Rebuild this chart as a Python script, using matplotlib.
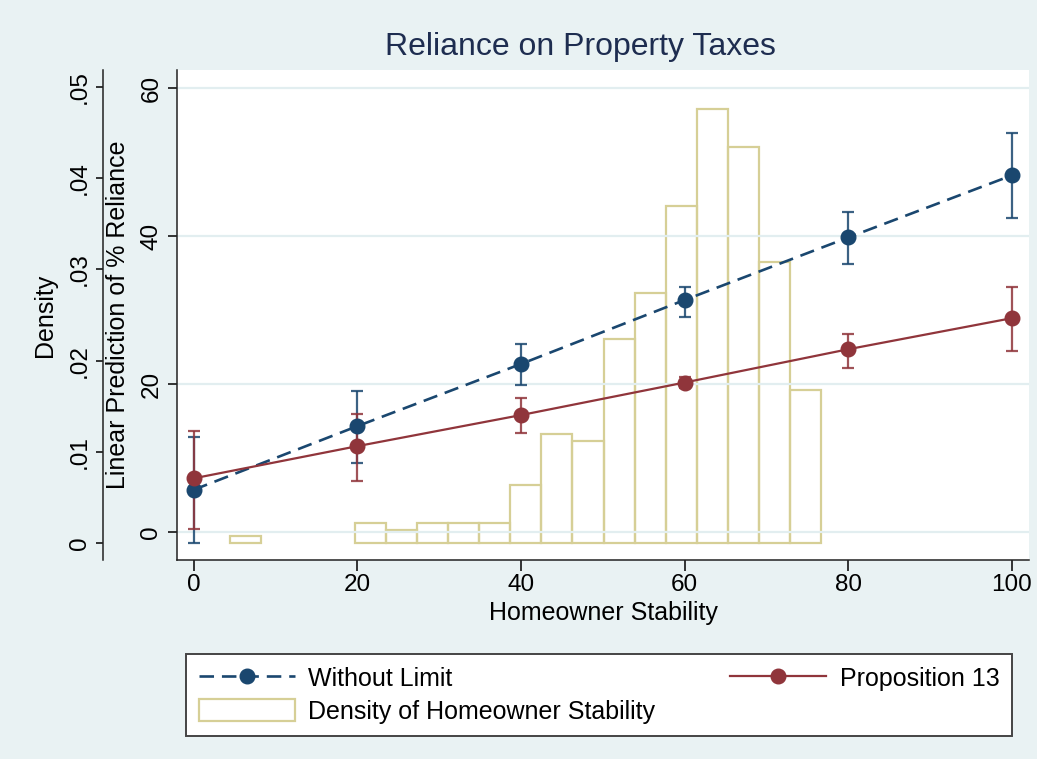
import numpy as np
import matplotlib
matplotlib.use('Agg')
import matplotlib.pyplot as plt
from matplotlib.ticker import FuncFormatter

plt.rcParams['font.family'] = ['Liberation Sans', 'DejaVu Sans']

# Data
stability = [0, 20, 40, 60, 80, 100]

no_limit = [5.7, 14.3, 22.7, 31.35, 39.8, 48.2]
no_limit_lo = [-1.5, 9.3, 19.9, 29.1, 36.2, 42.4]
no_limit_hi = [12.8, 19.0, 25.4, 33.15, 43.2, 53.9]

prop13 = [7.25, 11.6, 15.8, 20.2, 24.7, 28.9]
prop13_lo = [0.4, 6.9, 13.4, 19.4, 22.2, 24.4]
prop13_hi = [13.7, 15.9, 18.1, 20.9, 26.7, 33.15]

# histogram of homeowner stability (non-empty bins only)
bin_left = [4.5, 19.7, 23.5, 27.3, 31.1, 34.9, 38.7, 42.5, 46.3, 50.1,
            53.9, 57.7, 61.5, 65.3, 69.1, 72.9]
bin_width = 3.8
density = [0.0008, 0.0022, 0.0014, 0.0022, 0.0022, 0.0022, 0.0064, 0.0120,
           0.0112, 0.0224, 0.0274, 0.0370, 0.0476, 0.0434, 0.0308, 0.0168]

bg = '#e9f2f3'
navy = '#1a476f'
maroon = '#90353b'
khaki = '#d6cf96'

fig = plt.figure(figsize=(10.37, 7.59), dpi=100, facecolor=bg)
ax = fig.add_axes([177 / 1037, 199 / 759, 852 / 1037, 490 / 759])
ax2 = ax.twinx()

# histogram on density axis (behind)
ax2.set_zorder(1)
ax.set_zorder(2)
ax.patch.set_visible(False)
ax2.patch.set_visible(True)
ax2.patch.set_facecolor('white')

hist = ax2.bar(bin_left, density, width=bin_width, align='edge',
               facecolor='none', edgecolor=khaki, linewidth=1.6,
               label='Density of Homeowner Stability')

# predictions with CIs
x = np.array(stability)
nl = np.array(no_limit)
p13 = np.array(prop13)
ax.errorbar(x, nl, yerr=[nl - np.array(no_limit_lo), np.array(no_limit_hi) - nl],
            fmt='none', ecolor=navy, elinewidth=1.6, capsize=4.5, capthick=1.6,
            alpha=0.85)
ax.errorbar(x, p13, yerr=[p13 - np.array(prop13_lo), np.array(prop13_hi) - p13],
            fmt='none', ecolor=maroon, elinewidth=1.6, capsize=4.5, capthick=1.6,
            alpha=0.85)
l1, = ax.plot(x, nl, color=navy, lw=1.9, dashes=[5.5, 3], marker='o',
              markersize=10.5, label='Without Limit')
l2, = ax.plot(x, p13, color=maroon, lw=1.6, marker='o', markersize=10.5,
              label='Proposition 13')

ax.set_xlim(-2.02, 102.08)
ax.set_ylim(-3.78, 62.43)
ax2.set_ylim(-0.00186, 0.05186)

ax.set_xticks([0, 20, 40, 60, 80, 100])
ax.set_yticks([0, 20, 40, 60])
ax2.set_yticks([0, 0.01, 0.02, 0.03, 0.04, 0.05])
ax2.yaxis.set_major_formatter(FuncFormatter(
    lambda v, _: '0' if abs(v) < 1e-9 else f'{v:.2f}'.lstrip('0')))

ax.yaxis.grid(True, color='#e2eef0', lw=1.6)
ax.set_axisbelow(True)

for s in ['top', 'right']:
    ax.spines[s].set_visible(False)
for s in ['top', 'right', 'bottom']:
    ax2.spines[s].set_visible(False)
ax2.spines['left'].set_visible(True)
ax2.spines['left'].set_position(('outward', 53))
ax2.yaxis.tick_left()
ax2.yaxis.set_label_position('left')

for a in (ax, ax2):
    for s in a.spines.values():
        s.set_color('#222222')
        s.set_linewidth(1.1)

ax.tick_params(axis='x', length=8, width=1.1, pad=2, labelsize=17.5)
ax.tick_params(axis='y', length=6.5, width=1.1, pad=4, labelsize=17.5,
               labelrotation=90)
ax2.tick_params(axis='y', length=5, width=1.1, pad=4, labelsize=17.5,
                labelrotation=90)
for lab in ax.get_yticklabels() + ax2.get_yticklabels():
    lab.set_va('center')

ax.set_xlabel('Homeowner Stability', fontsize=18, labelpad=4)
ax.set_ylabel('Linear Prediction of % Reliance', fontsize=18)
ax2.set_ylabel('Density', fontsize=18)
ax.yaxis.set_label_coords(-0.055, 0.5)
ax2.yaxis.set_label_coords(-0.141, 0.5)

fig.text(580 / 1037, 1 - 47 / 759, 'Reliance on Property Taxes', fontsize=23,
         color='#1e2d50', ha='center', va='center')

leg = fig.legend([l1, hist, l2],
                 ['Without Limit', 'Density of Homeowner Stability', 'Proposition 13'],
                 loc='lower left', mode='expand', ncol=2,
                 bbox_to_anchor=(186 / 1037, 23 / 759, 826 / 1037, 90 / 759),
                 bbox_transform=fig.transFigure, borderaxespad=0,
                 fontsize=18, handlelength=3.85, handleheight=1.0,
                 handletextpad=0.55, borderpad=0.5, labelspacing=0.3,
                 fancybox=False, framealpha=1, edgecolor='#444444')
leg.get_frame().set_linewidth(1.4)

fig.savefig('out.png', dpi=100, facecolor=bg)
